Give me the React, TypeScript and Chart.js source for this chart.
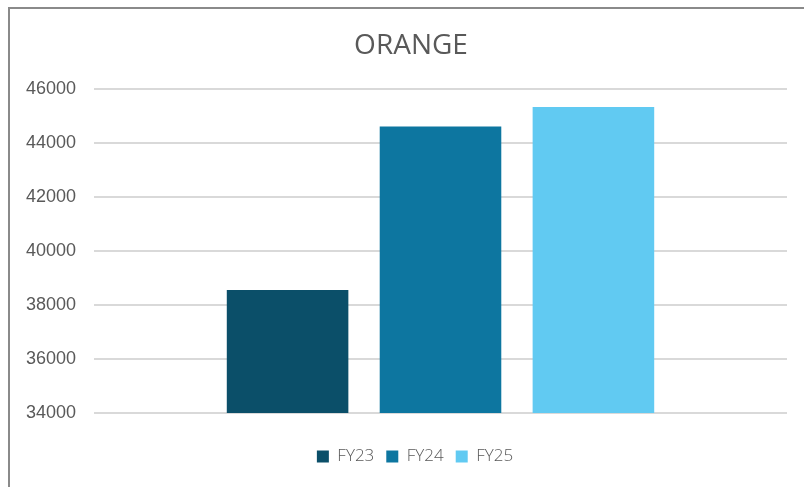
import React, { useEffect, useRef } from "react";
import { Chart, registerables } from "chart.js";

Chart.register(...registerables);

const chartTitle = "ORANGE";
const categories = [""];
const seriesNames = ["FY23", "FY24", "FY25"];
const seriesValues = [38550, 44600, 45320];
const seriesColors = ["#0b4f69", "#0d76a0", "#61caf2"];
const yMin = 34000;
const yMax = 46000;
const yStep = 2000;

const blockShift = {
  id: "blockShift",
  afterLayout(chart: any) {
    const t = chart.titleBlock;
    if (t) t.left += 10;
    const l = chart.legend;
    if (l) l.left += 18;
  },
};

export default function App() {
  const ref = useRef<HTMLCanvasElement | null>(null);

  useEffect(() => {
    if (!ref.current) return;
    const chart = new Chart(ref.current, {
      type: "bar",
      data: {
        labels: categories,
        datasets: seriesNames.map((name, i) => ({
          label: name,
          data: [seriesValues[i]],
          backgroundColor: seriesColors[i],
          borderWidth: 0,
          categoryPercentage: 0.662,
          barPercentage: 0.795,
        })),
      },
      plugins: [blockShift],
      options: {
        animation: false,
        responsive: false,
        maintainAspectRatio: false,
        layout: { padding: { left: 15, right: 17, top: 16, bottom: 12 } },
        plugins: {
          title: {
            display: true,
            text: chartTitle,
            color: "#595959",
            font: { family: "'Open Sans', sans-serif", size: 28, weight: "normal" },
            padding: { top: 4, bottom: 26 },
          },
          legend: {
            display: true,
            position: "bottom",
            labels: {
              boxWidth: 12,
              boxHeight: 12,
              padding: 12,
              color: "#595959",
              font: { family: "'Open Sans', sans-serif", size: 17, weight: "300" },
            },
          },
          tooltip: { enabled: false },
        },
        scales: {
          x: {
            ticks: { display: false },
            grid: { display: false, drawTicks: false },
            border: { display: false },
            afterFit: (scale: any) => {
              scale.height = 23;
            },
          },
          y: {
            min: yMin,
            max: yMax,
            ticks: {
              stepSize: yStep,
              color: "#595959",
              padding: 18,
              font: { family: "'Liberation Sans', Arial, sans-serif", size: 18 },
              callback: (v: any) => String(v),
            },
            grid: { color: "#d9d9d9", lineWidth: 2, drawTicks: false },
            border: { display: false },
            afterFit: (scale: any) => {
              scale.width = 69;
            },
          },
        },
      },
    });
    return () => chart.destroy();
  }, []);

  return (
    <div style={{ position: "fixed", left: 0, top: 0, width: 804, height: 487, background: "#fff", overflow: "hidden" }}>
      <canvas ref={ref} width={794} height={478} style={{ position: "absolute", left: 10, top: 9, width: 794, height: 478 }} />
      <div
        style={{
          position: "absolute",
          left: 8,
          top: 7,
          width: 820,
          height: 500,
          borderLeft: "2px solid #8a8a8a",
          borderTop: "2px solid #8a8a8a",
          pointerEvents: "none",
        }}
      />
    </div>
  );
}
